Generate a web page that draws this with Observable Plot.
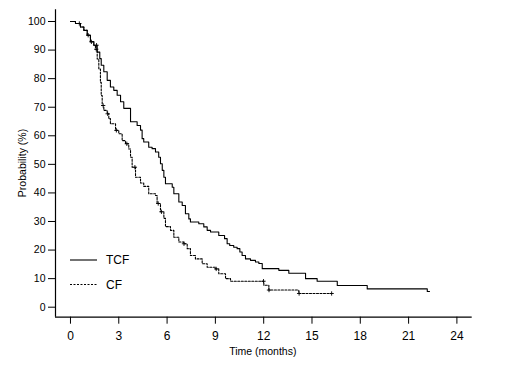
<!DOCTYPE html>
<html><head><meta charset="utf-8">
<script src="https://cdn.jsdelivr.net/npm/d3@7"></script>
<script src="https://cdn.jsdelivr.net/npm/@observablehq/plot@0.6"></script>
<style>
body{margin:0;background:#fff}
svg{font-family:Arial,"Liberation Sans",sans-serif}
</style>
</head><body><div id="chart"></div>
<script>
// ---- data ----
const seriesNames = ["TCF", "CF"];
const tcfTime = [0,0.31,0.62,0.83,1.04,1.24,1.45,1.66,1.82,1.91,2.07,2.28,2.48,2.69,2.90,3.11,3.31,3.73,4.14,4.35,4.45,4.55,4.86,5.07,5.28,5.48,5.59,5.70,5.80,5.90,6.32,6.42,6.73,6.94,7.14,7.35,7.45,7.97,8.28,8.49,8.70,9.21,9.57,9.73,9.89,10.14,10.35,10.52,10.66,10.87,11.18,11.49,11.70,11.91,12.94,13.56,14.60,15.32,16.57,18.43,22.16,22.30];
const tcfProb = [100,99.3,98.1,96.9,95.2,92.9,91.7,89.3,87,84.7,82.4,79.4,77.1,75.9,74.2,71.9,69.6,64.9,63.6,62,59,57.8,56,55.5,54.3,52.5,50.2,47.9,45.5,43.2,42,39.7,36.8,35.6,32.7,30.9,29.8,29.2,28.1,26.9,26.3,25.1,24.0,22.2,21.6,21.0,20.5,19.3,18.1,16.9,16.4,15.8,15.3,13.5,12.9,11.9,10.0,9.1,7.6,6.4,5.5,5.5];
const cfTime = [0,0.31,0.62,0.83,1.04,1.24,1.45,1.55,1.66,1.76,1.86,1.91,1.97,2.07,2.28,2.38,2.48,2.80,3.00,3.21,3.42,3.62,3.73,3.83,4.04,4.35,4.55,4.86,5.28,5.38,5.59,5.80,5.90,6.21,6.42,6.73,7.04,7.25,7.45,7.76,8.18,8.49,9.01,9.21,9.63,9.94,12.01,12.32,14.18,16.25];
const cfProb = [100,99.3,98.1,96.9,95.2,92.9,91.7,90.3,86.9,83.4,78.7,74.1,70.6,68.9,67.7,66,64.2,61.9,60.7,58.3,57.2,55.4,52.5,49.0,45.5,43.5,42.3,39.7,39.1,36.3,33.4,31.1,28.2,26.9,24.5,22.8,22.2,20.5,18.1,16.9,15.2,14.0,13.4,11.7,10.0,9.1,7.7,6.0,4.8,4.8];
const tcfCensor = [0.55, 1.10, 1.62];
const cfCensor = [1.30, 1.60, 2.03, 2.31, 2.85, 3.5, 4.0, 5.45, 5.65, 7.05, 9.05, 11.99, 12.33, 14.20, 16.22];
const xTicks = [0, 3, 6, 9, 12, 15, 18, 21, 24];
const yTicks = [0, 10, 20, 30, 40, 50, 60, 70, 80, 90, 100];
const xDomain = [-0.93, 24.95];
const yDomain = [-3.5, 104.1];
const xTitle = "Time (months)";
const yTitle = "Probability (%)";

// ---- build tables ----
const toRows = (ts, ps, g) => ts.map((t, i) => ({t, p: ps[i], g}));
const tcf = toRows(tcfTime, tcfProb, seriesNames[0]);
const cf = toRows(cfTime, cfProb, seriesNames[1]);
function levelAt(ts, ps, t) { let k = 0; for (let i = 0; i < ts.length; i++) if (ts[i] <= t) k = i; return ps[k]; }
const censors = [
  ...tcfCensor.map(t => ({t, p: levelAt(tcfTime, tcfProb, t)})),
  ...cfCensor.map(t => ({t, p: levelAt(cfTime, cfProb, t)}))
];

const W = 520, H = 365;
const chart = Plot.plot({
  width: W, height: H,
  marginLeft: 55, marginRight: 48.3, marginTop: 9.3, marginBottom: 48.3,
  x: {domain: xDomain, label: null},
  y: {domain: yDomain, label: null},
  style: {background: "#fff", color: "#000", overflow: "visible"},
  marks: [
    Plot.ruleX([xDomain[0]], {stroke: "#000", strokeWidth: 1.2}),
    Plot.ruleY([yDomain[0]], {stroke: "#000", strokeWidth: 1.2}),
    Plot.axisX(xTicks, {tickSize: 7, tickPadding: 7.5, fontSize: 12, label: null, stroke: "#000"}),
    Plot.axisY(yTicks, {tickSize: 7, tickPadding: 3, fontSize: 10.5, label: null, stroke: "#000"}),
    Plot.line(tcf, {x: "t", y: "p", curve: "step-after", stroke: "#000", strokeWidth: 1.1}),
    Plot.line(cf, {x: "t", y: "p", curve: "step-after", stroke: "#000", strokeWidth: 1.1, strokeDasharray: "2,1.5"}),
    Plot.dot(censors, {x: "t", y: "p", symbol: "plus", r: 1.5, stroke: "#000", strokeWidth: 0.9})
  ]
});
document.getElementById("chart").appendChild(chart);

// ---- titles and legend ----
const svg = d3.select(chart);
svg.append("text").attr("x", 262.8).attr("y", 354.5).attr("text-anchor", "middle")
  .attr("font-size", 10.5).attr("fill", "#000").text(xTitle);
svg.append("text").attr("transform", "translate(25.5,163) rotate(-90)").attr("text-anchor", "middle")
  .attr("font-size", 10.5).attr("fill", "#000").text(yTitle);
const leg = svg.append("g");
seriesNames.forEach((name, i) => {
  const y = 260 + i * 24.5;
  leg.append("line").attr("x1", 70).attr("x2", 97).attr("y1", y).attr("y2", y)
    .attr("stroke", "#000").attr("stroke-width", 1.1)
    .attr("stroke-dasharray", i === 1 ? "2,1.5" : null);
  leg.append("text").attr("x", 106).attr("y", y).attr("dy", "0.36em")
    .attr("text-anchor", "start")
    .attr("font-size", 12).attr("fill", "#000").text(name);
});
</script>
</body></html>
